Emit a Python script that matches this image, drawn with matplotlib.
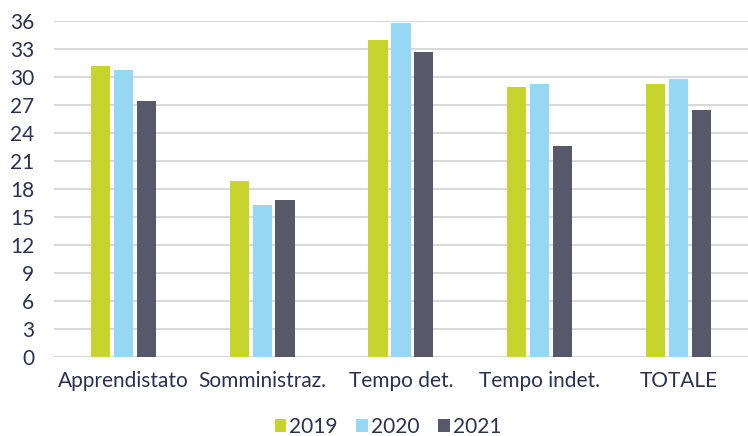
import matplotlib.pyplot as plt
import numpy as np

categories = ['Apprendistato', 'Somministraz.', 'Tempo det.', 'Tempo indet.', 'TOTALE']
years = ['2019', '2020', '2021']
v2019 = [31.2, 18.9, 34.0, 28.9, 29.25]
v2020 = [30.75, 16.3, 35.8, 29.2, 29.8]
v2021 = [27.45, 16.8, 32.65, 22.6, 26.45]
colors = ['#C8D42E', '#96D7F3', '#575869']
text_color = '#2B3151'

plt.rcParams['font.family'] = ['Lato', 'DejaVu Sans']

fig = plt.figure(figsize=(7.48, 4.36), dpi=100)
ax = fig.add_axes([0.072, 0.181, 0.928, 0.771])

x = np.arange(len(categories))
step = 0.165
w = 0.138
for i, vals in enumerate([v2019, v2020, v2021]):
    ax.bar(x + (i - 1) * step, vals, width=w, color=colors[i], label=years[i], zorder=3)

ax.set_xlim(-0.5, len(categories) - 0.5)
ax.set_ylim(0, 36)
ax.set_yticks(np.arange(0, 37, 3))
ax.yaxis.grid(True, color='#D9D9D9', linewidth=1.5, zorder=0)
ax.set_xticks(x)
ax.set_xticklabels(categories)
ax.tick_params(axis='both', length=0, labelsize=15, colors=text_color)
ax.tick_params(axis='x', pad=10)
ax.tick_params(axis='y', pad=14)
for s in ax.spines.values():
    s.set_visible(False)

fig.legend(loc='center', bbox_to_anchor=(388 / 748, 9 / 436), ncol=3, frameon=False,
           fontsize=15, labelcolor=text_color, handlelength=0.55, handleheight=0.55,
           handletextpad=0.15, columnspacing=0.9)

fig.savefig('out.png', dpi=100)
